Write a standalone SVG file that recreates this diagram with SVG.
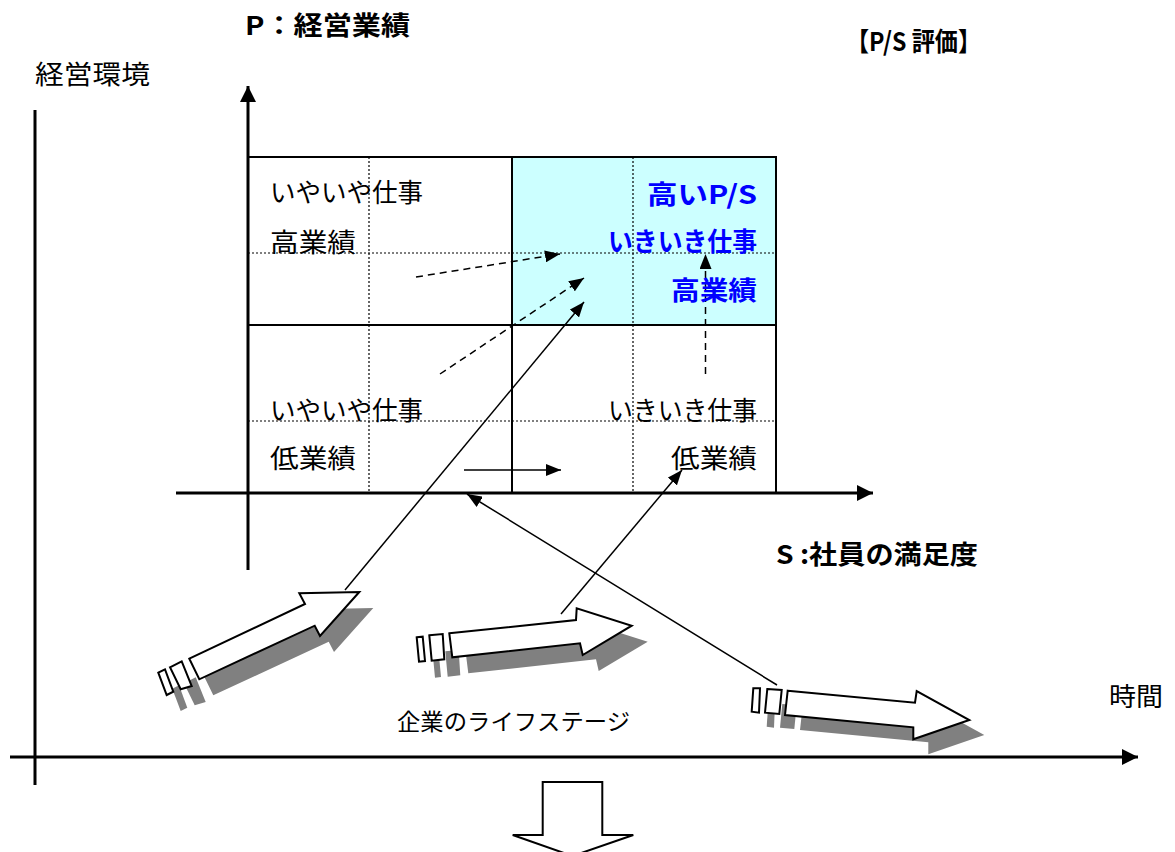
<svg xmlns="http://www.w3.org/2000/svg" width="1175" height="852" viewBox="0 0 1175 852">
<style>
text{font-family:"Noto Sans CJK JP","Liberation Sans",sans-serif;fill:#000}
.t{font-size:26px}
.b{font-size:26px;font-weight:bold}
.blue{fill:#0000ff;font-weight:bold;font-size:26px}
.grid{fill:none;stroke:#000;stroke-width:2}
.dot{stroke:#000;stroke-width:1.2;stroke-dasharray:2 2}
.axis{stroke:#000;stroke-width:3;fill:none}
.ln{stroke:#000;stroke-width:1.5;fill:none}
.dash{stroke:#000;stroke-width:1.5;fill:none;stroke-dasharray:7 5}
.blk{fill:#fff;stroke:#000;stroke-width:2;stroke-linejoin:miter}
.shd{fill:#808080;stroke:none}
</style>
<defs>
<marker id="ah" viewBox="0 0 16 16" refX="16" refY="8" markerWidth="16" markerHeight="16" markerUnits="userSpaceOnUse" orient="auto">
<path d="M0,0 L16,8 L0,16 Z" fill="#000"/>
</marker>
<marker id="as" viewBox="0 0 15 12" refX="15" refY="6" markerWidth="15" markerHeight="12" markerUnits="userSpaceOnUse" orient="auto">
<path d="M0,0 L15,6 L0,12 Z" fill="#000"/>
</marker>
</defs>

<g id="grid">
<rect x="512" y="157" width="264" height="168" fill="#ccffff"/>
<line class="dot" x1="369" y1="157" x2="369" y2="493"/>
<line class="dot" x1="633" y1="157" x2="633" y2="493"/>
<line class="dot" x1="248" y1="253" x2="776" y2="253"/>
<line class="dot" x1="248" y1="421" x2="776" y2="421"/>
<rect class="grid" x="248" y="157" width="528" height="336"/>
<line class="grid" x1="512" y1="157" x2="512" y2="493"/>
<line class="grid" x1="248" y1="325" x2="776" y2="325"/>
</g>

<g id="axes">
<line class="axis" x1="35" y1="110" x2="35" y2="785"/>
<line class="axis" x1="10" y1="757" x2="1138" y2="757" marker-end="url(#ah)"/>
<line class="axis" x1="248" y1="570" x2="248" y2="86" marker-end="url(#ah)"/>
<line class="axis" x1="176" y1="493" x2="873" y2="493" marker-end="url(#ah)"/>
</g>

<g id="block-arrow-1">
<g class="shd" transform="translate(14,16)">
<polygon points="158.3,672.7 165,669.3 173.3,691.7 166.7,695"/>
<polygon points="170,667.3 181.7,661.3 191.7,686 180.7,689.3"/>
<polygon points="189.3,658.7 305,604 299.3,593.3 359.3,592 320,636 314.7,625.7 199.3,679.3"/>
</g>
<polygon class="blk" points="158.3,672.7 165,669.3 173.3,691.7 166.7,695"/>
<polygon class="blk" points="170,667.3 181.7,661.3 191.7,686 180.7,689.3"/>
<polygon class="blk" points="189.3,658.7 305,604 299.3,593.3 359.3,592 320,636 314.7,625.7 199.3,679.3"/>
</g>

<g id="block-arrow-2">
<g class="shd" transform="translate(16,16)">
<polygon points="416.7,637.3 422.7,636.7 425,661 419,661.7"/>
<polygon points="429.3,635.3 442.7,634 444.3,659.3 431.7,660.7"/>
<polygon points="449.3,633.3 576,620 576.7,608.3 631.7,625.7 582.7,655 580,643.3 452.3,657.3"/>
</g>
<polygon class="blk" points="416.7,637.3 422.7,636.7 425,661 419,661.7"/>
<polygon class="blk" points="429.3,635.3 442.7,634 444.3,659.3 431.7,660.7"/>
<polygon class="blk" points="449.3,633.3 576,620 576.7,608.3 631.7,625.7 582.7,655 580,643.3 452.3,657.3"/>
</g>

<g id="block-arrow-3">
<g class="shd" transform="translate(15,15)">
<polygon points="753.3,688.3 760,688.3 759,712.7 751.7,711.7"/>
<polygon points="767.3,689 781.7,690 779.3,714 765,712.7"/>
<polygon points="787.7,690.7 915,702.7 916.7,691 969.3,720 913.3,739.3 913.3,727.3 785,715"/>
</g>
<polygon class="blk" points="753.3,688.3 760,688.3 759,712.7 751.7,711.7"/>
<polygon class="blk" points="767.3,689 781.7,690 779.3,714 765,712.7"/>
<polygon class="blk" points="787.7,690.7 915,702.7 916.7,691 969.3,720 913.3,739.3 913.3,727.3 785,715"/>
</g>

<g id="down-arrow">
<polygon class="blk" points="542.7,782 602.3,782 602.3,835 633.3,835 572.5,856 512.7,835 542.7,835"/>
</g>

<g id="connectors">
<line class="dash" x1="416" y1="277" x2="560" y2="254" marker-end="url(#as)"/>
<line class="dash" x1="440" y1="374" x2="584" y2="278" marker-end="url(#as)"/>
<line class="ln" x1="345" y1="590" x2="584" y2="302" marker-end="url(#as)"/>
<line class="ln" x1="464" y1="470" x2="561" y2="470" marker-end="url(#as)"/>
<line class="dash" x1="705.5" y1="374" x2="705.5" y2="254" marker-end="url(#as)"/>
<line class="ln" x1="561" y1="614" x2="682" y2="470" marker-end="url(#as)"/>
<line class="ln" x1="777" y1="685" x2="467" y2="494" marker-end="url(#as)"/>
</g>

<g id="labels">
<text class="t" x="35" y="84" textLength="115" lengthAdjust="spacingAndGlyphs">経営環境</text>
<text class="b" x="245" y="35" textLength="165" lengthAdjust="spacingAndGlyphs">P：経営業績</text>
<text class="b" x="846" y="51" textLength="135" lengthAdjust="spacingAndGlyphs">【P/S 評価】</text>
<text class="b" x="776" y="564" textLength="202" lengthAdjust="spacingAndGlyphs">S :社員の満足度</text>
<text class="t" x="1109" y="706" textLength="54" lengthAdjust="spacingAndGlyphs">時間</text>
<text class="t" x="397" y="730" textLength="233" lengthAdjust="spacingAndGlyphs" style="font-size:23px">企業のライフステージ</text>
</g>

<g id="cell-top-left">
<text class="t" x="270" y="202" textLength="153" lengthAdjust="spacingAndGlyphs">いやいや仕事</text>
<text class="t" x="270" y="252" textLength="86" lengthAdjust="spacingAndGlyphs">高業績</text>
</g>
<g id="cell-top-right">
<text class="blue" x="757" y="204" text-anchor="end" textLength="110" lengthAdjust="spacingAndGlyphs">高いP/S</text>
<text class="blue" x="757" y="251" text-anchor="end" textLength="149" lengthAdjust="spacingAndGlyphs">いきいき仕事</text>
<text class="blue" x="757" y="300" text-anchor="end" textLength="86" lengthAdjust="spacingAndGlyphs">高業績</text>
</g>
<g id="cell-bottom-left">
<text class="t" x="270" y="420" textLength="153" lengthAdjust="spacingAndGlyphs">いやいや仕事</text>
<text class="t" x="270" y="468" textLength="86" lengthAdjust="spacingAndGlyphs">低業績</text>
</g>
<g id="cell-bottom-right">
<text class="t" x="757" y="420" text-anchor="end" textLength="149" lengthAdjust="spacingAndGlyphs">いきいき仕事</text>
<text class="t" x="757" y="468" text-anchor="end" textLength="86" lengthAdjust="spacingAndGlyphs">低業績</text>
</g>
</svg>
